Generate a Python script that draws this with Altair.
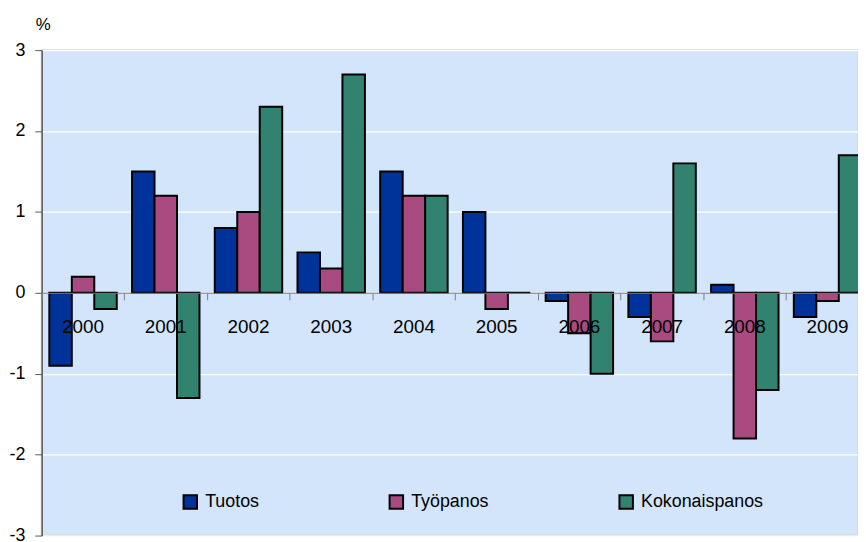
import altair as alt
import pandas as pd

years = ["2000", "2001", "2002", "2003", "2004", "2005", "2006", "2007", "2008", "2009"]
series = ["Tuotos", "Työpanos", "Kokonaispanos"]
tuotos = [-0.9, 1.5, 0.8, 0.5, 1.5, 1.0, -0.1, -0.3, 0.1, -0.3]
tyopanos = [0.2, 1.2, 1.0, 0.3, 1.2, -0.2, -0.5, -0.6, -1.8, -0.1]
kokonaispanos = [-0.2, -1.3, 2.3, 2.7, 1.2, 0.0, -1.0, 1.6, -1.2, 1.7]
colors = ["#003399", "#A94A80", "#31836F"]

rows = []
for name, vals in zip(series, [tuotos, tyopanos, kokonaispanos]):
    for y, v in zip(years, vals):
        rows.append({"vuosi": y, "sarja": name, "arvo": v})
df = pd.DataFrame(rows)

FONT = "Liberation Sans, Arial, sans-serif"
W, H = 824, 490

chart = alt.Chart(df).mark_bar(stroke="black", strokeWidth=2, clip=True).encode(
    x=alt.X("vuosi:N", sort=years, title=None,
            scale=alt.Scale(paddingInner=0, paddingOuter=0, range=[0, 835]),
            axis=alt.Axis(offset=-245, labelAngle=0, domainColor="#7f7f7f", tickColor="#7f7f7f",
                          tickSize=7, labelPadding=27, labelFontSize=19, labelFont=FONT,
                          labelColor="black", zindex=1, grid=False, bandPosition=0,
                          labelBaseline="middle")),
    xOffset=alt.XOffset("sarja:N", sort=series,
                        scale=alt.Scale(paddingInner=0, paddingOuter=0.34)),
    y=alt.Y("arvo:Q", title="%",
            scale=alt.Scale(domain=[-3, 3], nice=False),
            axis=alt.Axis(values=[-3, -2, -1, 0, 1, 2, 3], labelExpr="datum.value + ''",
                          gridColor="white",
                          gridWidth=1.2, domainColor="#595959", domainWidth=1.5,
                          tickColor="#595959", tickSize=7, labelPadding=10,
                          labelFontSize=18, labelFont=FONT, labelColor="black",
                          titleAngle=0, titleX=1, titleY=-26, titleAlign="center",
                          titleBaseline="middle", titleFontSize=17, titleFont=FONT,
                          titleFontWeight="normal", titleColor="black")),
    color=alt.Color("sarja:N", sort=series, title=None,
                    scale=alt.Scale(domain=series, range=colors),
                    legend=alt.Legend(orient="none", legendX=141, legendY=447,
                                      direction="horizontal", symbolType="square",
                                      symbolSize=185, symbolStrokeColor="black",
                                      symbolStrokeWidth=2, symbolOpacity=1,
                                      labelFontSize=18, labelFont=FONT, labelColor="black",
                                      columnPadding=127, labelOffset=6)),
).properties(
    width=W, height=H,
    autosize=alt.AutoSizeParams(type="none"),
    padding={"left": 34, "top": 40, "right": 0, "bottom": 4},
).configure_view(
    fill="#D3E5FA", stroke="#d9d9d9", strokeWidth=2
)

chart.save("out.html", embed_options={"renderer": "svg", "actions": False})
